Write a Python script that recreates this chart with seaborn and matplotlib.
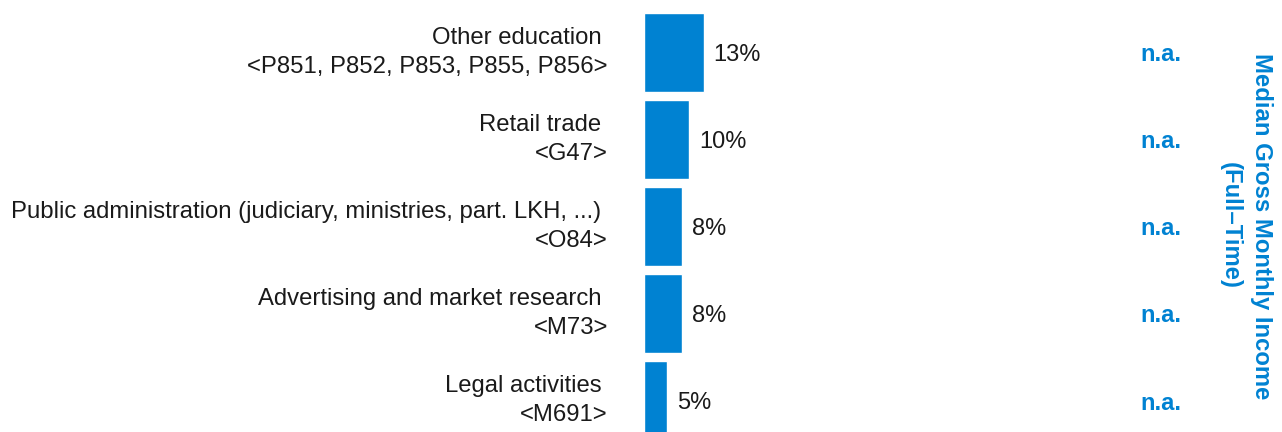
import matplotlib
matplotlib.use("Agg")
import matplotlib.pyplot as plt
import matplotlib.transforms as mtransforms
import pandas as pd
import seaborn as sns

# ==========================================================
# Data
# ==========================================================

industries = [
    "Other education \n<P851, P852, P853, P855, P856>",
    "Retail trade \n<G47>",
    "Public administration (judiciary, ministries, part. LKH, ...) \n<O84>",
    "Advertising and market research \n<M73>",
    "Legal activities \n<M691>",
]
shares = [13.0, 9.8, 8.2, 8.2, 5.0]
share_labels = ["13%", "10%", "8%", "8%", "5%"]
income_labels = ["n.a.", "n.a.", "n.a.", "n.a.", "n.a."]
income_title = "Median Gross Monthly Income\n(Full\u2013Time)"

BLUE = "#0082D2"
TEXT = "#1a1a1a"

df = pd.DataFrame({"Industry": industries, "Share": shares})

# ==========================================================
# Figure
# ==========================================================

sns.set_theme(style="white")
plt.rcParams["font.family"] = ["Liberation Sans", "DejaVu Sans"]

W, H = 1282, 432
fig = plt.figure(figsize=(W / 100, H / 100), dpi=100)
ax = fig.add_axes([644 / W, 0, (1100 - 644) / W, 1])

sns.barplot(data=df, x="Share", y="Industry", orient="h",
            color=BLUE, width=0.908, saturation=1, ax=ax)

ax.set_xlim(0, (1100 - 644) / 4.615)
ax.set_ylim((432 - 52.5) / 87, -52.5 / 87)

value_texts = ax.bar_label(ax.containers[0], labels=share_labels, padding=7,
                           fontsize=17, color=TEXT)
for t in value_texts:
    t.set_verticalalignment("center_baseline")

ax.set_yticks(range(len(industries)))
ax.set_yticklabels(industries, fontsize=17.2, color=TEXT, va="center",
                   ha="right", multialignment="right", linespacing=1.45)
ax.tick_params(axis="y", length=0, pad=26)
ax.set_xticks([])
ax.set_xlabel("")
ax.set_ylabel("")
sns.despine(ax=ax, left=True, bottom=True)

# income column (no data available) — x in pixels, y in data units
na_trans = mtransforms.blended_transform_factory(
    mtransforms.IdentityTransform(), ax.transData)
for i, lab in enumerate(income_labels):
    ax.text(1161, i, lab, transform=na_trans,
            ha="center", va="center_baseline", fontsize=17,
            fontweight="bold", color=BLUE)

fig.text(1246 / W, 1 - 226 / H, income_title, rotation=270,
         ha="center", va="center", multialignment="center",
         fontsize=17.2, fontweight="bold", color=BLUE, linespacing=1.45)

fig.savefig("out.png", dpi=100)
plt.close(fig)
